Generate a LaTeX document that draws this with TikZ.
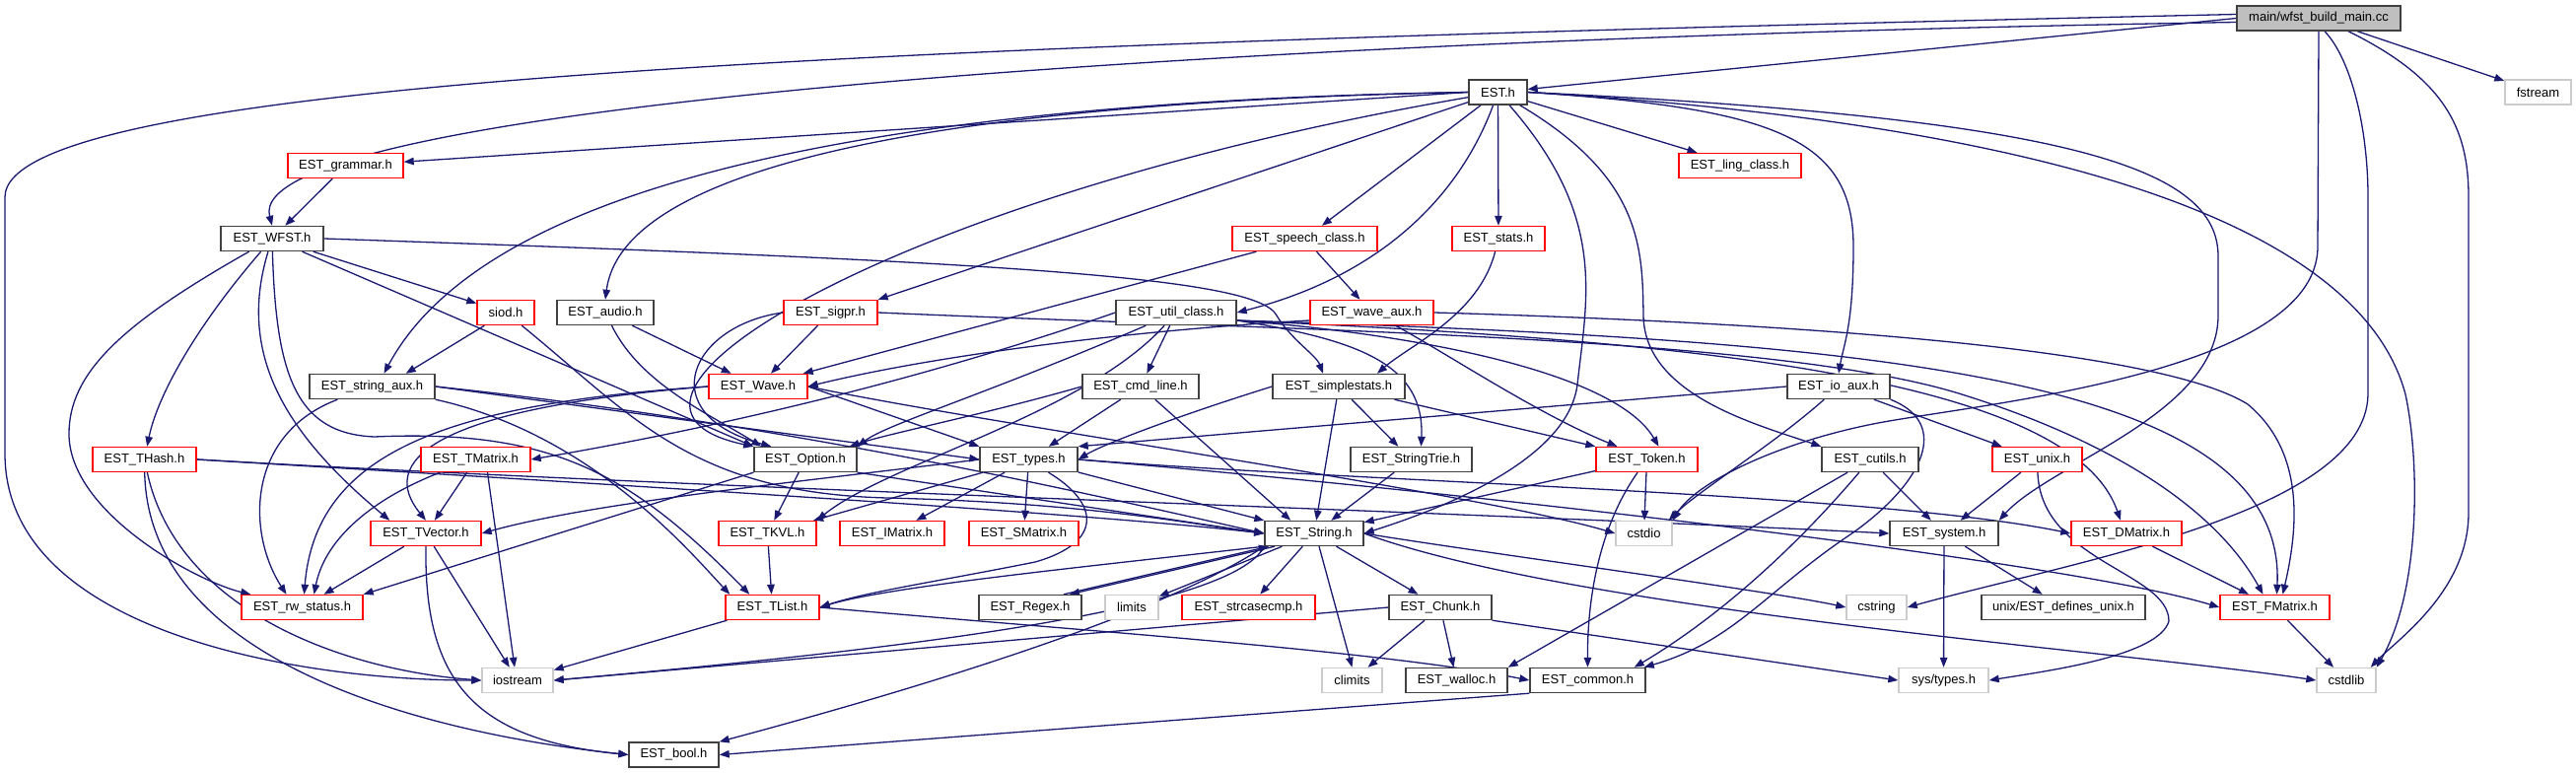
\documentclass[tikz,border=0pt]{standalone}
\usepackage{fontspec}
\setmainfont{Liberation Sans}
\usetikzlibrary{arrows.meta,backgrounds}
\definecolor{edgec}{RGB}{25,25,112}
\definecolor{gfill}{RGB}{191,191,191}
\definecolor{gline}{RGB}{204,204,204}
\definecolor{bline}{RGB}{64,64,64}
\newcommand\nfont{\fontsize{13}{15}\selectfont}
\begin{document}
\begin{tikzpicture}[x=1pt,y=-1pt,
  nb/.style={draw=bline, line width=1.4pt, fill=white, minimum height=25pt, inner sep=0pt, font=\nfont},
  nr/.style={nb, draw=red},
  ng/.style={nb, draw=gline},
  ed/.style={draw=edgec, line width=1.3pt, -{Triangle[length=10pt,width=7.5pt]}}]
\path[use as bounding box] (0,0) rectangle (2613,784);
% rank 0-2
\node[nb,fill=gfill,minimum width=166pt] (main) at (2352,18.5) {main/wfst\_build\_main.cc};
\node[nb,minimum width=59pt] (EST) at (1519.5,93.5) {EST.h};
\node[ng,minimum width=67pt] (fstream) at (2574.5,93.5) {fstream};
\node[nr,minimum width=117pt] (grammar) at (350.5,168) {EST\_grammar.h};
\node[nr,minimum width=124pt] (ling) at (1765,168) {EST\_ling\_class.h};
% rank 3
\node[nb,minimum width=104pt] (WFST) at (276,242) {EST\_WFST.h};
\node[nr,minimum width=147pt] (speech) at (1323.5,242) {EST\_speech\_class.h};
\node[nr,minimum width=94pt] (stats) at (1520,242) {EST\_stats.h};
% rank 4
\node[nr,minimum width=58pt] (siod) at (513,317) {siod.h};
\node[nb,minimum width=98pt] (audio) at (614,317) {EST\_audio.h};
\node[nr,minimum width=95pt] (sigpr) at (842.5,317) {EST\_sigpr.h};
\node[nb,minimum width=122pt] (util) at (1193,317) {EST\_util\_class.h};
\node[nr,minimum width=125pt] (waveaux) at (1391.5,317) {EST\_wave\_aux.h};
% rank 5
\node[nb,minimum width=127pt] (straux) at (377.5,392) {EST\_string\_aux.h};
\node[nr,minimum width=100pt] (Wave) at (769,392) {EST\_Wave.h};
\node[nb,minimum width=118pt] (cmdline) at (1157,392) {EST\_cmd\_line.h};
\node[nb,minimum width=134pt] (simplestats) at (1358,392) {EST\_simplestats.h};
\node[nb,minimum width=104pt] (ioaux) at (1865,392) {EST\_io\_aux.h};
% rank 6
\node[nr,minimum width=105pt] (THash) at (146.5,466) {EST\_THash.h};
\node[nr,minimum width=111pt] (TMatrix) at (482.5,466) {EST\_TMatrix.h};
\node[nb,minimum width=104pt] (Option) at (817,466) {EST\_Option.h};
\node[nb,minimum width=99pt] (types) at (1043.5,466) {EST\_types.h};
\node[nb,minimum width=123pt] (StringTrie) at (1431.5,466) {EST\_StringTrie.h};
\node[nr,minimum width=103pt] (Token) at (1670.5,466) {EST\_Token.h};
\node[nb,minimum width=98pt] (cutils) at (1897,466) {EST\_cutils.h};
\node[nr,minimum width=91pt] (unix) at (2066.5,466) {EST\_unix.h};
% rank 7
\node[nr,minimum width=112pt] (TVector) at (432,541) {EST\_TVector.h};
\node[nr,minimum width=99pt] (TKVL) at (778.5,541) {EST\_TKVL.h};
\node[nr,minimum width=106pt] (IMatrix) at (905,541) {EST\_IMatrix.h};
\node[nr,minimum width=111pt] (SMatrix) at (1038.5,541) {EST\_SMatrix.h};
\node[nb,minimum width=100pt] (String) at (1333,541) {EST\_String.h};
\node[ng,minimum width=57pt] (cstdio) at (1667.5,541) {cstdio};
\node[nb,minimum width=110pt] (system) at (1972,541) {EST\_system.h};
\node[nr,minimum width=112pt] (DMatrix) at (2157,541) {EST\_DMatrix.h};
% rank 8
\node[nr,minimum width=123pt] (rwstatus) at (306.5,616) {EST\_rw\_status.h};
\node[nr,minimum width=95pt] (TList) at (783.5,616) {EST\_TList.h};
\node[nb,minimum width=104pt] (Regex) at (1045,616) {EST\_Regex.h};
\node[ng,minimum width=54pt] (limits) at (1148,616) {limits};
\node[nr,minimum width=135pt] (strcasecmp) at (1266.5,616) {EST\_strcasecmp.h};
\node[nb,minimum width=104pt] (Chunk) at (1461,616) {EST\_Chunk.h};
\node[ng,minimum width=61pt] (cstring) at (1903.5,616) {cstring};
\node[nb,minimum width=166pt] (defunix) at (2093,616) {unix/EST\_defines\_unix.h};
\node[nr,minimum width=111pt] (FMatrix) at (2307.5,616) {EST\_FMatrix.h};
% rank 9-10
\node[ng,minimum width=72pt] (iostream) at (525,690) {iostream};
\node[ng,minimum width=61pt] (climits) at (1371.5,690) {climits};
\node[nb,minimum width=103pt] (walloc) at (1477.5,690) {EST\_walloc.h};
\node[nb,minimum width=117pt] (common) at (1610.5,690) {EST\_common.h};
\node[ng,minimum width=91pt] (systypes) at (1971.5,690) {sys/types.h};
\node[ng,minimum width=60pt] (cstdlib) at (2380,690) {cstdlib};
\node[nb,minimum width=91pt] (bool) at (683.5,765.5) {EST\_bool.h};

\begin{pgfonlayer}{background}
% main
\draw[ed] (main) -- (fstream);
\draw[ed] (main.west) -- (EST);
\draw[ed] ([yshift=-4pt]main.west) .. controls (1200,40) and (245,110) .. (WFST.north);
\draw[ed] ([yshift=4pt]main.west) .. controls (900,45) and (5,80) .. (5,200) -- (5,460) .. controls (5,640) and (300,690) .. (iostream.west);
\draw[ed] (main.south) -- (2351,250) .. controls (2351,380) and (2000,410) .. (1900,430) .. controls (1800,450) and (1720,490) .. (cstdio.north east);
\draw[ed] ([xshift=6pt]main.south) .. controls (2385,60) and (2402,130) .. (2402,200) -- (2402,400) .. controls (2400,520) and (2100,570) .. (cstring.east);
\draw[ed] ([xshift=30pt]main.south) .. controls (2480,80) and (2504,130) .. (2504,200) -- (2504,520) .. controls (2504,600) and (2430,650) .. ([xshift=-6pt]cstdlib.north east);
% EST.h
\draw[ed] (EST.west) -- (grammar);
\draw[ed] (EST.west) .. controls (800,105) and (480,210) .. ([xshift=12pt]straux.north);
\draw[ed] (EST.west) .. controls (900,105) and (630,180) .. (audio.north);
\draw[ed] (EST) -- (sigpr.north east);
\draw[ed] (EST) .. controls (900,200) and (560,410) .. (Option.north west);
\draw[ed] (EST) -- (speech);
\draw[ed] (EST) .. controls (1480,200) and (1400,280) .. (util.east);
\draw[ed] (EST) -- (stats);
\draw[ed] (EST) .. controls (1630,220) and (1610,300) .. (1600,390) .. controls (1590,470) and (1450,520) .. (String.east);
\draw[ed] (EST) .. controls (1665,180) and (1666,250) .. (1667,320) .. controls (1668,400) and (1780,430) .. (cutils.north west);
\draw[ed] (EST) -- (ling);
\draw[ed] (EST.east) .. controls (1800,110) and (1880,140) .. (1880,250) .. controls (1880,330) and (1870,350) .. (ioaux.north);
\draw[ed] (EST.east) .. controls (2100,120) and (2250,170) .. (2250,260) -- (2250,320) .. controls (2250,420) and (2080,470) .. (system.north east);
\draw[ed] (EST.east) .. controls (2150,130) and (2400,250) .. (2440,400) .. controls (2455,470) and (2455,600) .. (cstdlib.north east);
% grammar, WFST
\draw[ed] (grammar) -- (WFST);
\draw[ed] (WFST.east) .. controls (1000,265) and (1275,280) .. (1295,320) .. controls (1310,345) and (1335,360) .. ([xshift=-16pt]simplestats.north);
\draw[ed] (WFST) -- (siod);
\draw[ed] (WFST) -- (Option.north west);
\draw[ed] (WFST) .. controls (280,380) and (300,440) .. (380,443) .. controls (560,435) and (640,480) .. ([xshift=25pt]TList.north west);
\draw[ed] (WFST) .. controls (240,360) and (290,440) .. ([xshift=20pt]TVector.north west);
\draw[ed] (WFST) .. controls (200,330) and (160,400) .. (THash);
\draw[ed] (WFST) .. controls (120,330) and (70,380) .. (70,440) .. controls (70,520) and (200,590) .. ([xshift=10pt]rwstatus.north west);
% rank 4
\draw[ed] (siod) -- ([xshift=-30pt]straux.north east);
\draw[ed] (siod) .. controls (640,420) and (700,500) .. (900,505) .. controls (1100,510) and (1200,530) .. (String.west);
\draw[ed] (audio) -- (Wave);
\draw[ed] (audio) .. controls (650,390) and (720,420) .. ([xshift=8pt]Option.north west);
\draw[ed] (sigpr) -- (Wave);
\draw[ed] (sigpr.west) .. controls (700,330) and (660,420) .. ([xshift=18pt]Option.north west);
\draw[ed] (sigpr.east) .. controls (1300,335) and (1800,340) .. (1990,400) .. controls (2150,450) and (2250,520) .. ([xshift=-12pt]FMatrix.north);
\draw[ed] (speech) -- ([xshift=-5pt]Wave.north east);
\draw[ed] (speech) -- (waveaux);
\draw[ed] (stats) .. controls (1500,320) and (1430,350) .. ([xshift=39pt]simplestats.north);
\draw[ed] (util) -- (cmdline);
\draw[ed] (util) .. controls (1000,400) and (900,430) .. (Option.north east);
\draw[ed] (util.west) .. controls (950,380) and (750,430) .. (TMatrix.east);
\draw[ed] (util) .. controls (1100,420) and (900,470) .. (TKVL.north east);
\draw[ed] ([yshift=-8pt]util.east) .. controls (1380,345) and (1445,370) .. ([xshift=10pt]StringTrie.north);
\draw[ed] ([yshift=-8pt]util.east) .. controls (1450,340) and (1640,380) .. ([xshift=12pt]Token.north);
\draw[ed] ([yshift=-8pt]util.east) .. controls (1700,345) and (2100,380) .. ([xshift=-6pt]DMatrix.north);
\draw[ed] ([yshift=-8pt]util.east) .. controls (1900,345) and (2320,380) .. ([xshift=2pt]FMatrix.north);
\draw[ed] ([yshift=-8pt]waveaux.west) .. controls (1150,335) and (950,360) .. (Wave.east);
\draw[ed] (waveaux) .. controls (1470,360) and (1560,420) .. ([xshift=-30pt]Token.north);
\draw[ed] (waveaux.east) .. controls (1900,330) and (2200,360) .. (2280,410) .. controls (2340,460) and (2330,540) .. ([xshift=8pt]FMatrix.north);
% rank 5
\draw[ed] (straux.east) -- (types.west);
\draw[ed] (straux.east) .. controls (800,430) and (1100,500) .. (String.west);
\draw[ed] (straux.south east) .. controls (600,440) and (700,560) .. ([xshift=5pt]TList.north west);
\draw[ed] (straux) .. controls (250,440) and (250,540) .. ([xshift=-16pt]rwstatus.north);
\draw[ed] (Wave.east) -- (types.north west);
\draw[ed] (Wave.west) .. controls (450,410) and (320,460) .. ([xshift=2pt]rwstatus.north);
\draw[ed] (Wave.west) .. controls (430,415) and (385,470) .. (TVector.north);
\draw[ed] (Wave.east) .. controls (1000,430) and (1500,500) .. (cstdio.west);
\draw[ed] (cmdline) -- (types);
\draw[ed] (cmdline) -- ([xshift=27pt]String.north west);
\draw[ed] (cmdline.west) .. controls (1000,420) and (900,440) .. ([xshift=-8pt]Option.north east);
\draw[ed] (simplestats.west) .. controls (1200,420) and (1120,450) .. (types.east);
\draw[ed] (simplestats) -- (String);
\draw[ed] (simplestats) -- (StringTrie);
\draw[ed] (simplestats) -- (Token.north west);
\draw[ed] (ioaux.west) -- (types.north east);
\draw[ed] (ioaux) -- (unix);
\draw[ed] (ioaux) .. controls (1800,450) and (1720,500) .. ([xshift=-4pt]cstdio.north east);
\draw[ed] (ioaux.south east) .. controls (1980,430) and (1950,490) .. (1880,540) .. controls (1790,600) and (1760,650) .. ([xshift=-2pt]common.north east);
% rank 6
\draw[ed] (types) -- (TKVL);
\draw[ed] (types) -- (IMatrix);
\draw[ed] (types) -- (SMatrix);
\draw[ed] ([xshift=20pt]types.south) .. controls (1115,510) and (1120,550) .. (1050,570) .. controls (950,590) and (880,600) .. (TList.east);
\draw[ed] (types.west) .. controls (800,490) and (600,510) .. (TVector.east);
\draw[ed] (types) -- (String);
\draw[ed] (types.east) .. controls (1500,500) and (2100,570) .. (FMatrix.west);
\draw[ed] (types.east) .. controls (1400,490) and (1900,500) .. (DMatrix.west);
\draw[ed] (Option) -- (TKVL);
\draw[ed] (Option.south east) -- (String.west);
\draw[ed] (Option.south west) -- (rwstatus.north east);
\draw[ed] ([xshift=20pt]TMatrix.south west) .. controls (380,505) and (330,545) .. ([xshift=12pt]rwstatus.north);
\draw[ed] (TMatrix) -- (TVector);
\draw[ed] ([xshift=12pt]TMatrix.south) -- ([xshift=-3pt]iostream.north);
\draw[ed] (THash) .. controls (180,620) and (350,680) .. (iostream.west);
\draw[ed] (THash) .. controls (150,660) and (400,740) .. (bool.west);
\draw[ed] (THash.east) .. controls (600,490) and (1100,520) .. (String.west);
\draw[ed] (THash.east) .. controls (700,495) and (1500,520) .. (system.west);
\draw[ed] (StringTrie) -- (String);
\draw[ed] (Token) -- (String);
\draw[ed] (Token) -- (cstdio);
\draw[ed] (Token) .. controls (1625,530) and (1610,600) .. (common.north);
\draw[ed] (unix) -- (system);
\draw[ed] (unix) .. controls (2070,570) and (2200,580) .. (2200,630) .. controls (2190,665) and (2080,680) .. (systypes.east);
\draw[ed] (cutils) -- (system);
\draw[ed] (cutils) -- (walloc.north east);
\draw[ed] (cutils) .. controls (1800,580) and (1720,640) .. ([xshift=-12pt]common.north east);
% rank 7
\draw[ed] (TVector) -- (rwstatus);
\draw[ed] (TVector) -- (iostream);
\draw[ed] (TVector.south) .. controls (430,690) and (480,750) .. (bool.west);
\draw[ed] (TKVL) -- (TList);
\draw[ed] ([xshift=-40pt]String.south) -- ([xshift=40pt]Regex.north);
\draw[ed] ([xshift=34pt]Regex.north) -- ([xshift=-46pt]String.south);
\draw[ed] (String.south west) .. controls (1100,575) and (900,595) .. (TList.east);
\draw[ed] (String) -- (limits);
\draw[ed] (String) -- (strcasecmp);
\draw[ed] (String) -- (Chunk);
\draw[ed] ([xshift=5pt]String.south) -- (climits.north);
\draw[ed] (String.south west) .. controls (1250,620) and (900,660) .. (iostream.east);
\draw[ed] (String.south west) .. controls (1200,610) and (1000,680) .. (bool.north east);
\draw[ed] (String.east) .. controls (1500,560) and (1800,600) .. (cstring.west);
\draw[ed] (String.east) .. controls (1600,620) and (2150,660) .. (cstdlib.west);
\draw[ed] (system) -- (systypes);
\draw[ed] (system) -- (defunix);
\draw[ed] (DMatrix) -- (FMatrix);
% rank 8
\draw[ed] (TList) -- (iostream);
\draw[ed] (TList.east) .. controls (1100,640) and (1400,660) .. (common.west);
\draw[ed] (Chunk) -- (climits);
\draw[ed] (Chunk) -- (walloc);
\draw[ed] (Chunk.south east) -- (systypes.west);
\draw[ed] (Chunk.west) -- (iostream.east);
\draw[ed] (FMatrix) -- (cstdlib);
\draw[ed] (common.south west) -- (bool.east);
\end{pgfonlayer}
\end{tikzpicture}
\end{document}
